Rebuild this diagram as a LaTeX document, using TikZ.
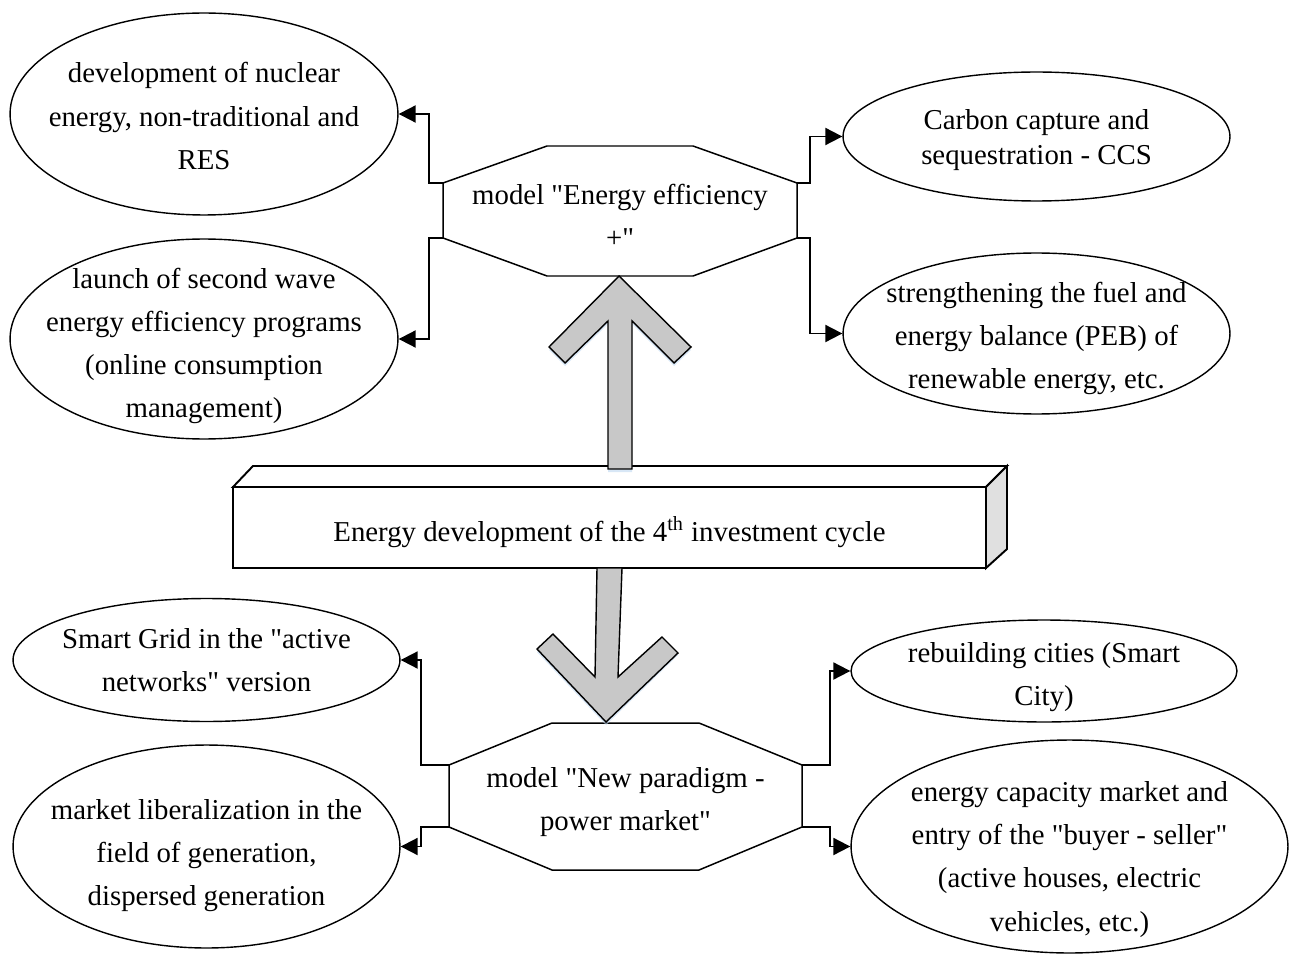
\documentclass[tikz,border=0pt]{standalone}
\usepackage{fontspec}
\setmainfont{Liberation Serif}[Ligatures=TeXOff]
\usetikzlibrary{shapes.geometric,arrows.meta,calc}
\definecolor{arrowgray}{HTML}{C8C8C8}
\definecolor{sidegray}{HTML}{E0E0E0}
\definecolor{glow}{HTML}{BFD7F0}
\newcommand{\fs}{\fontsize{16.4}{24.5}\selectfont}
\tikzset{
  ell/.style={ellipse, draw, line width=0.8pt, inner sep=0pt},
  conn/.style={line width=1.1pt, -{Triangle[length=0.34cm,width=0.34cm]}},
  octo/.style={draw, line width=0.85pt, fill=white, line join=miter},
  bigarrow/.style={draw, line width=0.8pt, fill=arrowgray, line join=miter},
  label/.style={align=center, font=\fs, inner sep=0pt}
}
\begin{document}
\begin{tikzpicture}[x=0.02cm,y=-0.02cm]
\useasboundingbox[fill=white] (0,0) rectangle (1290,959);

% ellipses
\node[ell, minimum width=7.76cm, minimum height=4.04cm] (tl) at (204,114) {};
\node[label] (tlt) at ($(tl)+(0,2)$) {development of nuclear\\energy, non-traditional and\\RES};
\node[ell, minimum width=7.76cm, minimum height=4.0cm] (launch) at (204,339) {};
\node[label] (launcht) at ($(launch)+(0,7)$) {launch of second wave\\energy efficiency programs\\(online consumption\\management)};
\node[ell, minimum width=7.74cm, minimum height=2.58cm] (carbon) at (1036.5,136.5) {};
\node[label] (carbont) at ($(carbon)+(0,4)$) {Carbon capture and\\[-0.16cm]sequestration - CCS};
\node[ell, minimum width=7.74cm, minimum height=3.22cm] (strength) at (1036.5,333.5) {};
\node[label] (strengtht) at ($(strength)+(0,5)$) {strengthening the fuel and\\energy balance (PEB) of\\renewable energy, etc.};
\node[ell, minimum width=7.74cm, minimum height=2.46cm] (smart) at (206.5,660) {};
\node[label] (smartt) at ($(smart)+(0,0)$) {Smart Grid in the "active\\networks" version};
\node[ell, minimum width=7.74cm, minimum height=4.06cm] (market) at (206.5,846.5) {};
\node[label] (markett) at ($(market)+(0,9)$) {market liberalization in the\\field of generation,\\dispersed generation};
\node[ell, minimum width=7.72cm, minimum height=2.04cm] (rebuild) at (1044,671) {};
\node[label] (rebuildt) at ($(rebuild)+(0,6)$) {rebuilding cities (Smart\\City)};
\node[ell, minimum width=8.74cm, minimum height=4.26cm] (cap) at (1069.5,846.5) {};
\node[label] (capt) at ($(cap)+(0,13)$) {energy capacity market and\\entry of the "buyer - seller"\\(active houses, electric\\vehicles, etc.)};

% top octagon
\draw[octo] (547,146) -- (693,146) -- (797,183) -- (797,238) -- (693,276)
  -- (547,276) -- (443,238) -- (443,183) -- cycle;
\node[label] (m1) at (620,216) {model "Energy efficiency\\+"};
\coordinate (m1a) at (443,183);
\coordinate (m1b) at (443,238);
\coordinate (m1c) at (797,183);
\coordinate (m1d) at (797,238);

% bottom octagon
\draw[octo] (552,723) -- (699,723) -- (802,765) -- (802,827) -- (699,870)
  -- (552,870) -- (449,827) -- (449,765) -- cycle;
\node[label] (m2) at (625.5,802) {model "New paradigm -\\power market"};
\coordinate (m2a) at (449,765);
\coordinate (m2b) at (449,827);
\coordinate (m2c) at (802,765);
\coordinate (m2d) at (802,827);

% connectors
\draw[conn] (m1a) -- ++(-14,0) |- (tl.east);
\draw[conn] (m1b) -- ++(-14,0) |- (launch.east);
\draw[conn] (m1c) -- ++(13,0) |- (carbon.west);
\draw[conn] (m1d) -- ++(13,0) |- (strength.west);
\draw[conn] (m2a) -- ++(-28,0) |- (smart.east);
\draw[conn] (m2b) -- ++(-28,0) |- (market.east);
\draw[conn] (m2c) -- ++(28,0) |- (rebuild.west);
\draw[conn] (m2d) -- ++(28,0) |- (cap.west);

% 3D box
\draw[line width=1.1pt, fill=white, line join=miter] (233,487) -- (253,466) -- (1007,466) -- (986,487) -- cycle;
\draw[line width=1.1pt, fill=sidegray, line join=miter] (986,487) -- (1007,466) -- (1007,549) -- (986,568) -- cycle;
\node[draw, line width=1.1pt, fill=white, minimum width=15.06cm, minimum height=1.62cm, inner sep=0pt] (box) at (609.5,527.5) {};
\node[label] (boxt) at ($(box)+(0,5)$) {Energy development of the 4\textsuperscript{th} investment cycle};

% up arrow
\fill[glow, opacity=0.6] (619,279) -- (691,350) -- (674,366) -- (632,324) -- (632,472)
  -- (608,472) -- (608,324) -- (565,366) -- (549,350) -- cycle;
\draw[bigarrow] (619,276) -- (691,347) -- (674,363) -- (632,321) -- (632,469)
  -- (608,469) -- (608,321) -- (565,363) -- (549,347) -- cycle;

% down arrow
\fill[glow, opacity=0.6] (597,570) -- (622,570) -- (618,679) -- (662,639) -- (678,655)
  -- (606,725) -- (537,652) -- (553,637) -- (595,679) -- cycle;
\draw[bigarrow] (597,568) -- (622,568) -- (618,677) -- (662,637) -- (678,653)
  -- (606,722) -- (537,649) -- (553,634) -- (595,677) -- cycle;
\end{tikzpicture}
\end{document}
